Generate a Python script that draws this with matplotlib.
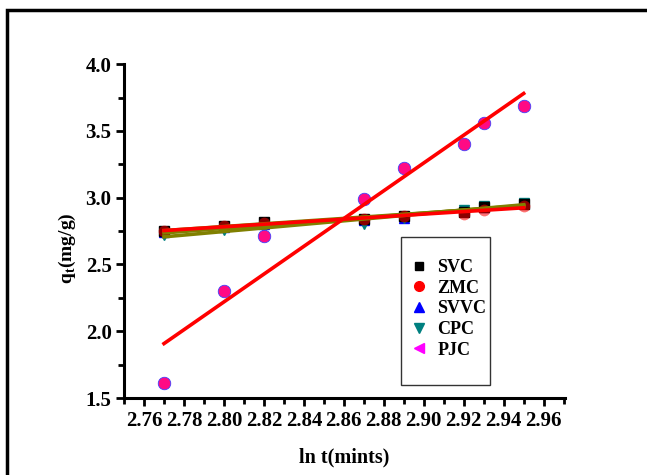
import matplotlib
matplotlib.use('Agg')
import matplotlib.pyplot as plt
import numpy as np
from matplotlib.lines import Line2D
from matplotlib.patches import Rectangle

plt.rcParams['font.family'] = ['Liberation Serif', 'DejaVu Serif']
plt.rcParams['font.weight'] = 'bold'
plt.rcParams['mathtext.fontset'] = 'custom'
plt.rcParams['mathtext.bf'] = 'Liberation Serif:bold'
plt.rcParams['mathtext.rm'] = 'Liberation Serif:bold'

ln_t = [2.77, 2.80, 2.82, 2.87, 2.89, 2.92, 2.93, 2.95]

q_svc = [2.75, 2.79, 2.82, 2.84, 2.86, 2.89, 2.93, 2.95]
q_zmc = [2.75, 2.79, 2.81, 2.84, 2.86, 2.88, 2.91, 2.94]
q_svvc = [2.74, 2.78, 2.80, 2.83, 2.85, 2.90, 2.93, 2.96]
q_cpc = [2.72, 2.76, 2.77, 2.80, 2.85, 2.91, 2.94, 2.96]
q_pjc = [1.61, 2.30, 2.71, 2.99, 3.22, 3.40, 3.56, 3.69]

labels = ['SVC', 'ZMC', 'SVVC', 'CPC', 'PJC']

fig = plt.figure(figsize=(6.47, 4.75), dpi=100)
ax = fig.add_axes([0.1917, 0.162, 0.681, 0.703])

x = np.array(ln_t)

# scatter points
ax.plot(x, q_svvc, '^', color='blue', ms=7, zorder=3)
ax.plot(x, q_cpc, 'v', color='#008080', ms=7, zorder=3)
ax.plot(x, q_svc, 's', color='black', ms=7, zorder=3)
ax.plot(x, q_zmc, 'o', color='red', ms=8.5, alpha=0.55, mec='none', zorder=4)
ax.plot(x, q_pjc, 'o', color='#ff0a84', ms=9, mec='#4040ff', mew=0.6, zorder=4)

# linear fits
xs = np.array([ln_t[0], ln_t[-1]])
for q, col in [(q_svc, '#808000'), (q_svvc, '#808000'), (q_cpc, '#808000'),
               (q_zmc, 'red'), (q_pjc, 'red')]:
    k, b = np.polyfit(x, q, 1)
    ax.plot(xs, k * xs + b, '-', color=col, lw=2.6, zorder=5)

ax.set_xlim(2.75, 2.9705)
ax.set_ylim(1.5, 4.0)
ax.set_xticks(np.arange(2.76, 2.961, 0.02))
ax.set_xticks(np.arange(2.75, 2.971, 0.01), minor=True)
ax.set_yticks(np.arange(1.5, 4.01, 0.5))
ax.set_yticks(np.arange(1.5, 4.01, 0.25), minor=True)
ax.set_xticklabels([f'{v:.2f}' for v in np.arange(2.76, 2.961, 0.02)])
ax.set_yticklabels([f'{v:.1f}' for v in np.arange(1.5, 4.01, 0.5)])

for s in ['top', 'right']:
    ax.spines[s].set_visible(False)
for s in ['left', 'bottom']:
    ax.spines[s].set_linewidth(2.2)
ax.tick_params(which='major', direction='out', length=6, width=2, labelsize=15, pad=3)
ax.tick_params(which='minor', direction='out', length=4, width=2)

ax.set_xlabel('ln t(mints)', fontsize=14.5, fontweight='bold', labelpad=12)
ax.set_ylabel('q$_\\mathbf{t}$(mg/g)', fontsize=14, fontweight='bold')
ax.yaxis.set_label_coords(-0.104, 0.449)

handles = [
    Line2D([], [], ls='none', marker='s', color='black', ms=6),
    Line2D([], [], ls='none', marker='o', color='red', ms=7),
    Line2D([], [], ls='none', marker='^', color='blue', ms=7),
    Line2D([], [], ls='none', marker='v', color='#008080', ms=7),
    Line2D([], [], ls='none', marker='<', color='magenta', ms=7),
]
ax.legend(handles, labels, loc='center left', bbox_to_anchor=(0.65, 0.267),
          frameon=False, prop={'weight': 'bold', 'size': 13},
          handletextpad=0.5, labelspacing=0.2, borderpad=0,
          borderaxespad=0, handlelength=1.0)
# legend box
ax.add_patch(Rectangle((0.628, 0.039), 0.202, 0.443, transform=ax.transAxes,
                       fill=False, edgecolor='#333333', lw=1.0, zorder=6))

# outer frame around the figure
fig.patches.append(Rectangle((7 / 647, -0.1), 1.2, (475 - 10) / 475 + 0.1,
                             transform=fig.transFigure, fill=False,
                             edgecolor='black', lw=2.5, clip_on=False))

fig.savefig('out.png', dpi=100)
